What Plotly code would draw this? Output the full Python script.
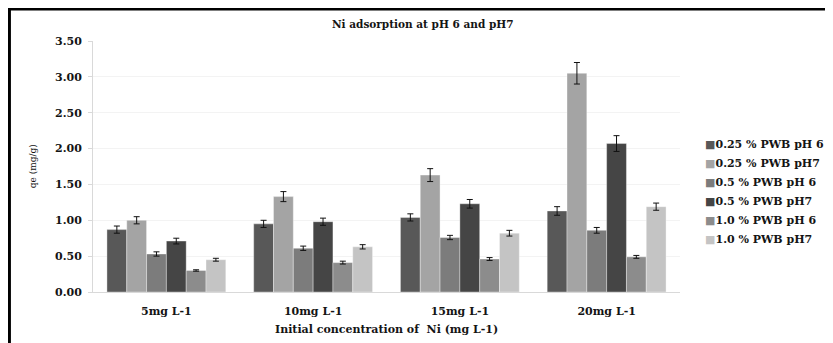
import plotly.graph_objects as go

categories = ["5mg L-1", "10mg L-1", "15mg L-1", "20mg L-1"]
series_names = ["0.25 % PWB pH 6", "0.25 % PWB pH7", "0.5 % PWB pH 6",
                "0.5 % PWB pH7", "1.0 % PWB pH 6", "1.0 % PWB pH7"]
values = [
    [0.87, 0.95, 1.04, 1.13],
    [1.00, 1.33, 1.63, 3.05],
    [0.53, 0.61, 0.76, 0.86],
    [0.71, 0.98, 1.23, 2.07],
    [0.30, 0.41, 0.46, 0.49],
    [0.45, 0.63, 0.82, 1.19],
]
errors = [
    [0.05, 0.05, 0.05, 0.06],
    [0.05, 0.07, 0.09, 0.15],
    [0.03, 0.03, 0.03, 0.04],
    [0.04, 0.05, 0.06, 0.11],
    [0.01, 0.02, 0.02, 0.02],
    [0.02, 0.03, 0.04, 0.05],
]
colors = ["#585858", "#a4a4a4", "#7c7c7c", "#454545", "#8c8c8c", "#c4c4c4"]
yticks = [0, 0.5, 1.0, 1.5, 2.0, 2.5, 3.0, 3.5]
ytick_labels = ["0.00", "0.50", "1.00", "1.50", "2.00", "2.50", "3.00", "3.50"]

serif = "DejaVu Serif, serif"
txt = "#141414"

# figure-pixel geometry (page has an 8px body margin)
L, T, W, H = 85, 33, 590, 251


def px(fx):
    return (fx - L) / W


def py(fy):
    return (T + H - fy) / H


fig = go.Figure()
for name, vals, errs, col in zip(series_names, values, errors, colors):
    fig.add_trace(go.Bar(
        x=categories, y=vals, name=name, showlegend=False,
        marker=dict(color=col, line=dict(color="rgba(255,255,255,0.6)", width=0.6)),
        error_y=dict(type="data", array=errs, visible=True, color="#111111",
                     thickness=1, width=3),
    ))
# legend entries: colored square glyph in text, invisible symbol
for name, col in zip(series_names, colors):
    fig.add_trace(go.Scatter(
        x=[None], y=[None], mode="markers", hoverinfo="skip",
        marker=dict(color="rgba(0,0,0,0)", size=1),
        name=f"<span style='color:{col}'>■</span>{name}",
    ))

fig.update_layout(
    width=833, height=343,
    paper_bgcolor="white", plot_bgcolor="white",
    barmode="group", bargap=0.19, bargroupgap=0,
    margin=dict(l=L, r=833 - L - W, t=T, b=343 - T - H),
    font=dict(family=serif, color=txt),
    showlegend=True,
    legend=dict(
        x=px(660), xanchor="left", y=py(121), yanchor="top",
        font=dict(family=serif, size=11, color=txt, weight="bold"),
        tracegroupgap=0, itemwidth=30, bgcolor="rgba(0,0,0,0)",
    ),
    xaxis=dict(
        showline=True, linecolor="#d9d9d9", linewidth=1,
        ticks="", tickfont=dict(family=serif, size=11, color=txt, weight="bold"),
        ticklabelstandoff=9,
        showgrid=False,
    ),
    yaxis=dict(
        range=[0, 3.5], tickvals=yticks, ticktext=ytick_labels,
        showline=True, linecolor="#d9d9d9", linewidth=1,
        ticks="outside", ticklen=4, tickcolor="#d9d9d9",
        ticklabelstandoff=4,
        tickfont=dict(family=serif, size=11, color=txt, weight="bold"),
        showgrid=True, gridcolor="#f3f3f3", zeroline=False,
    ),
    annotations=[
        dict(text="<b>Ni adsorption at pH 6 and pH7</b>", xref="paper", yref="paper",
             x=px(417), y=py(16), xanchor="center", yanchor="middle",
             showarrow=False, font=dict(family=serif, size=10.5, color=txt)),
        dict(text="qe (mg/g)", xref="paper", yref="paper",
             x=px(25), y=py(158), xanchor="center", yanchor="middle",
             textangle=-90, showarrow=False, font=dict(family=serif, size=9, color=txt)),
        dict(text="<b>Initial concentration of  Ni (mg L-1)</b>", xref="paper", yref="paper",
             x=px(380), y=py(321), xanchor="center", yanchor="middle",
             showarrow=False, font=dict(family=serif, size=11, color=txt)),
    ],
    shapes=[
        dict(type="line", xref="paper", yref="paper",
             x0=px(0), x1=px(840), y0=py(1), y1=py(1),
             line=dict(color="black", width=3)),
        dict(type="line", xref="paper", yref="paper",
             x0=px(1), x1=px(1), y0=py(0), y1=py(350),
             line=dict(color="black", width=3)),
    ],
)

fig.write_html("out.html")
